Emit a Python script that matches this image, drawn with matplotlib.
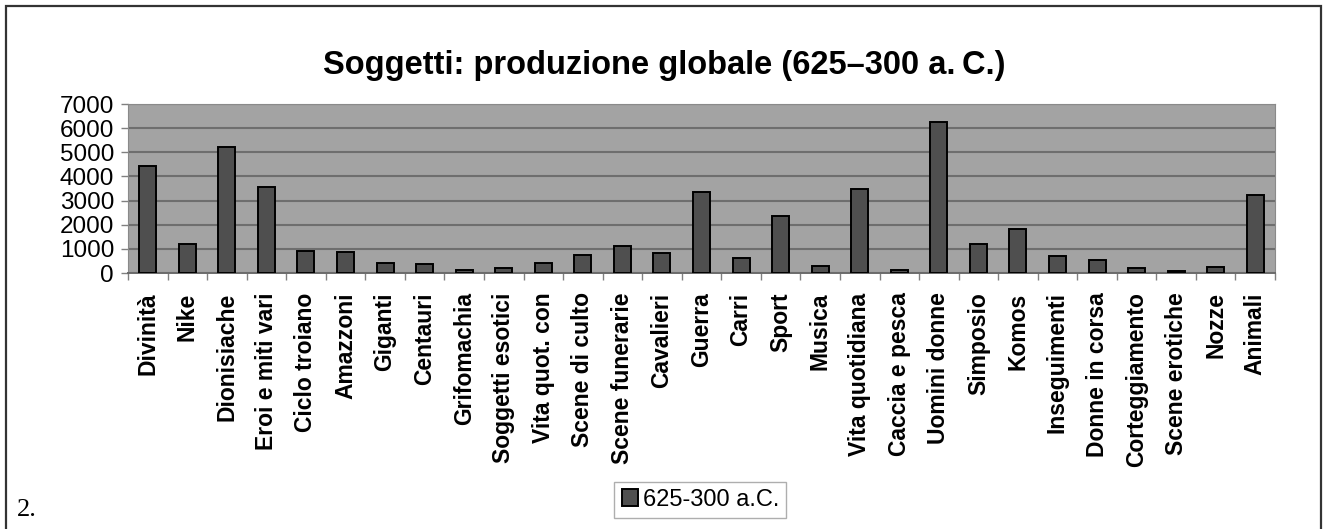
import numpy as np
import matplotlib
matplotlib.use("Agg")
import matplotlib.pyplot as plt
from matplotlib.patches import Rectangle

# Data
categories = ["Divinità", "Nike", "Dionisiache", "Eroi e miti vari", "Ciclo troiano",
              "Amazzoni", "Giganti", "Centauri", "Grifomachia", "Soggetti esotici",
              "Vita quot. con", "Scene di culto", "Scene funerarie", "Cavalieri", "Guerra",
              "Carri", "Sport", "Musica", "Vita quotidiana", "Caccia e pesca",
              "Uomini donne", "Simposio", "Komos", "Inseguimenti", "Donne in corsa",
              "Corteggiamento", "Scene erotiche", "Nozze", "Animali"]
values = [4430, 1190, 5210, 3550, 910,
          860, 415, 375, 110, 195,
          415, 730, 1120, 815, 3350,
          620, 2380, 305, 3460, 140,
          6270, 1220, 1830, 705, 540,
          195, 85, 260, 3240]
series_name = "625-300 a.C."
title = "Soggetti: produzione globale (625\u2013300 a.\u2009C.)"
yticks = [0, 1000, 2000, 3000, 4000, 5000, 6000, 7000]

plt.rcParams["font.family"] = ["Liberation Sans", "DejaVu Sans"]

fig = plt.figure(figsize=(13.29, 5.29), dpi=100)
ax = fig.add_axes([0.0963, 0.4839, 0.9594 - 0.0963, 0.8034 - 0.4839])

x = np.arange(len(categories))
ax.set_facecolor("#a3a3a3")
ax.bar(x, values, width=0.43, color="#4f4f4f", edgecolor="black", linewidth=1.4,
       label=series_name, zorder=3)

ax.set_ylim(0, 7000)
ax.set_xlim(-0.5, len(categories) - 0.5)
ax.set_yticks(yticks)
ax.set_yticklabels([str(v) for v in yticks], fontsize=17.5)
ax.yaxis.grid(True, color="#6e6e6e", linewidth=1.5, zorder=1)
ax.set_axisbelow(True)

# category labels between boundary ticks
ax.set_xticks(x)
ax.set_xticklabels(categories, rotation=90, fontsize=16.5, fontweight="bold")
ax.tick_params(axis="x", length=0, pad=14)
ax.set_xticks(np.arange(len(categories) + 1) - 0.5, minor=True)
ax.tick_params(axis="x", which="minor", length=5, color="#808080", width=1)
ax.tick_params(axis="y", length=5, color="#808080", width=1, pad=5)

for side in ["top", "right", "left"]:
    ax.spines[side].set_color("#8a8a8a")
ax.spines["bottom"].set_color("#6a6a6a")
ax.spines["bottom"].set_linewidth(1.4)

fig.text(0.5, 0.877, title, ha="center", va="center", fontsize=23.5, fontweight="bold")

leg = fig.legend(loc="center", bbox_to_anchor=(0.527, 0.055), fontsize=17,
                 frameon=True, fancybox=False, edgecolor="#9a9a9a",
                 handlelength=0.7, handleheight=0.7, handletextpad=0.2,
                 borderpad=0.3)
leg.get_frame().set_linewidth(1.0)

# outer frame and figure number
fig.patches.append(Rectangle((6 / 1329, -0.02), (1321 - 6) / 1329, 1 - 6 / 529 + 0.02,
                             transform=fig.transFigure, fill=False,
                             edgecolor="#333333", linewidth=1.6))
fig.text(0.013, 0.015, "2.", fontsize=19, family="Liberation Serif", ha="left", va="bottom")

fig.savefig("out.png", dpi=100)
